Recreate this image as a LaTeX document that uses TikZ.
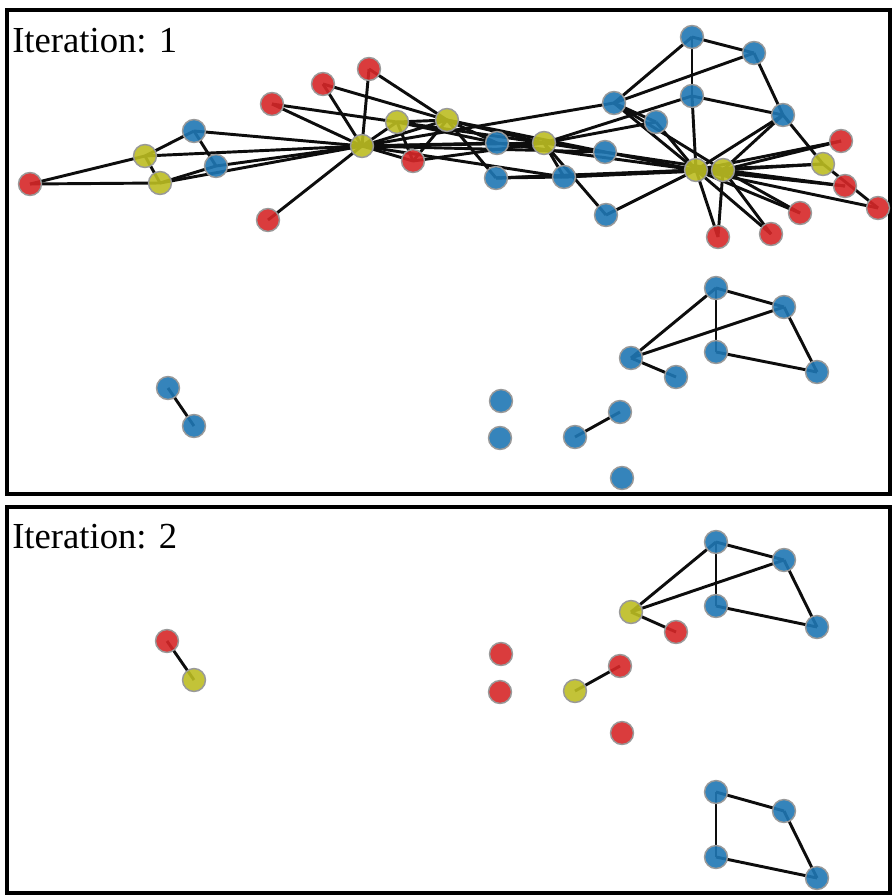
\documentclass[tikz,border=0pt]{standalone}
\usepackage{fontspec}
\setmainfont{Liberation Serif}
\pgfdeclarelayer{bg}
\pgfsetlayers{bg,main}
\definecolor{nblue}{RGB}{31,119,180}
\definecolor{nred}{RGB}{214,39,40}
\definecolor{nolive}{RGB}{188,189,34}
\tikzset{
  nd/.style={circle,inner sep=0pt,minimum size=17.2pt,draw=gray!80,line width=1.1pt,fill opacity=0.9},
  bl/.style={nd,fill=nblue},
  rd/.style={nd,fill=nred},
  ol/.style={nd,fill=nolive},
  lnk/.style={line width=2.2pt,black!95},
  panel/.style={line width=3.6pt},
  iter/.style={anchor=base west,inner sep=0pt,font=\fontsize{27.5}{30}\selectfont}
}
\begin{document}
\begin{tikzpicture}[x=0.75pt,y=-0.75pt]
\useasboundingbox (0,0) rectangle (893,896);
% frames
\draw[panel] (7,10) rectangle (890,494);
\draw[panel] (7,507) rectangle (890,893);
\node[iter] (t1) at (12,52) {Iteration: 1};
\node[iter] (t2) at (12,548) {Iteration: 2};
% iteration 1, big component
\node[ol] (n0) at (362,146) {};
\node[ol] (n1) at (447,120) {};
\node[ol] (n2) at (544,143) {};
\node[ol] (n3) at (397,122) {};
\node[bl] (n4) at (216,166) {};
\node[ol] (n5) at (145,156) {};
\node[ol] (n6) at (160,183) {};
\node[rd] (n7) at (413,161) {};
\node[bl] (n8) at (564,177) {};
\node[bl] (n9) at (606,215) {};
\node[bl] (n10) at (194,131) {};
\node[rd] (n11) at (268,220) {};
\node[rd] (n12) at (272,104) {};
\node[bl] (n13) at (497,143) {};
\node[rd] (n14) at (841,141) {};
\node[rd] (n15) at (845,186) {};
\node[rd] (n16) at (30,184) {};
\node[rd] (n17) at (323,84) {};
\node[rd] (n18) at (800,213) {};
\node[bl] (n19) at (605,152) {};
\node[rd] (n20) at (771,234) {};
\node[rd] (n21) at (369,69) {};
\node[rd] (n22) at (718,237) {};
\node[bl] (n23) at (783,115) {};
\node[bl] (n24) at (692,37) {};
\node[bl] (n25) at (754,53) {};
\node[rd] (n26) at (878,208) {};
\node[bl] (n27) at (692,96) {};
\node[bl] (n28) at (656,122) {};
\node[ol] (n29) at (823,164) {};
\node[bl] (n30) at (496,178) {};
\node[bl] (n31) at (614,103) {};
\node[ol] (n32) at (723,170) {};
\node[ol] (n33) at (696,170) {};
% iteration 1, small parts
\node[bl] (p1) at (716,288) {};
\node[bl] (p2) at (784,307) {};
\node[bl] (p3) at (631,358) {};
\node[bl] (p4) at (716,352) {};
\node[bl] (p5) at (817,372) {};
\node[bl] (p6) at (676,377) {};
\node[bl] (p7) at (620,412) {};
\node[bl] (p8) at (575,437) {};
\node[bl] (p9) at (622,478) {};
\node[bl] (p10) at (168,388) {};
\node[bl] (p11) at (194,426) {};
\node[bl] (p12) at (501,401) {};
\node[bl] (p13) at (500,438) {};
% iteration 2
\node[bl] (q1) at (716,542) {};
\node[bl] (q2) at (784,560) {};
\node[ol] (q3) at (631,612) {};
\node[bl] (q4) at (716,606) {};
\node[bl] (q5) at (817,627) {};
\node[rd] (q6) at (676,632) {};
\node[rd] (q7) at (620,666) {};
\node[ol] (q8) at (575,691) {};
\node[rd] (q9) at (622,733) {};
\node[rd] (q10) at (167,641) {};
\node[ol] (q11) at (194,680) {};
\node[rd] (q12) at (501,654) {};
\node[rd] (q13) at (500,692) {};
\node[bl] (q14) at (716,792) {};
\node[bl] (q15) at (784,811) {};
\node[bl] (q16) at (716,857) {};
\node[bl] (q17) at (817,878) {};
% links under the nodes
\begin{pgfonlayer}{bg}
\foreach \a/\b in {0/1,0/2,0/3,0/4,0/5,0/6,0/7,0/8,0/10,0/11,0/12,0/13,0/17,0/19,0/21,0/31,
  1/2,1/3,1/7,1/13,1/17,1/19,1/21,1/30,
  2/3,2/7,2/8,2/9,2/13,2/27,2/28,2/32,
  3/7,3/12,3/13,4/6,4/10,5/6,5/10,5/16,6/16,
  8/30,8/32,8/33,9/33,13/33,14/32,14/33,15/32,15/33,18/32,18/33,19/33,
  20/32,20/33,22/32,22/33,23/25,23/27,23/29,23/32,23/33,
  24/25,24/27,24/31,25/31,26/29,26/33,27/33,28/31,28/33,
  29/32,29/33,30/32,30/33,31/32,31/33,32/33}
  \draw[lnk] (n\a.center) -- (n\b.center);
\foreach \a/\b in {1/2,1/3,1/4,2/3,2/5,4/5,3/6,7/8,10/11}
  \draw[lnk] (p\a.center) -- (p\b.center);
\foreach \a/\b in {1/2,1/3,1/4,2/3,2/5,4/5,3/6,7/8,10/11,14/15,14/16,15/17,16/17}
  \draw[lnk] (q\a.center) -- (q\b.center);
\end{pgfonlayer}
\end{tikzpicture}
\end{document}
